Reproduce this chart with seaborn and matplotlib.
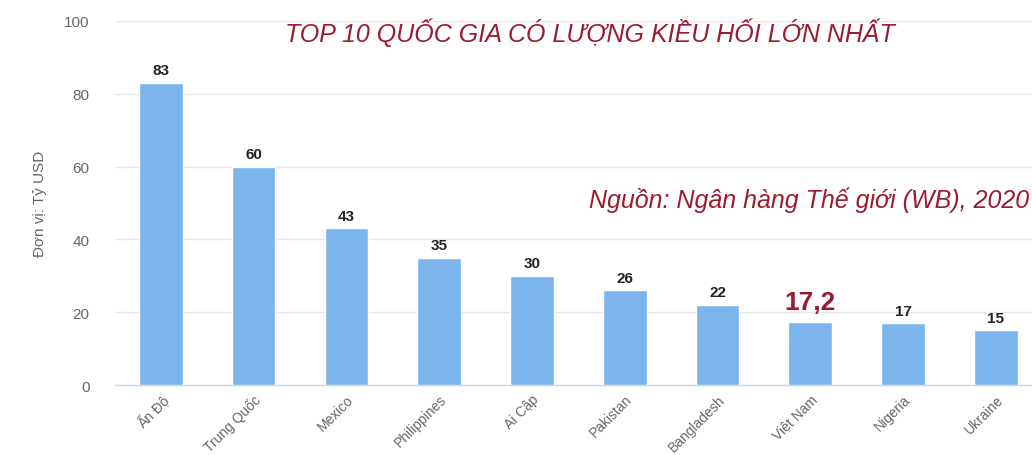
import matplotlib
matplotlib.use("Agg")
import matplotlib.pyplot as plt
import seaborn as sns
import pandas as pd

countries = ["Ấn Độ", "Trung Quốc", "Mexico", "Philippines", "Ai Cập",
             "Pakistan", "Bangladesh", "Việt Nam", "Nigeria", "Ukraine"]
values = [83, 60, 43, 35, 30, 26, 22, 17.2, 17, 15]
value_labels = ["83", "60", "43", "35", "30", "26", "22", "17,2", "17", "15"]
yticks = [0, 20, 40, 60, 80, 100]
title = "TOP 10 QUỐC GIA CÓ LƯỢNG KIỀU HỐI LỚN NHẤT"
source = "Nguồn: Ngân hàng Thế giới (WB), 2020"
ylabel = "Đơn vị: Tỷ USD"

sns.set_theme(style="white")
plt.rcParams['font.family'] = ['Liberation Sans', 'DejaVu Sans']

df = pd.DataFrame({"country": countries, "value": values})

fig = plt.figure(figsize=(10.32, 4.56), dpi=100)
ax = fig.add_axes([0.111, 0.1535, 0.889, 0.7983])

sns.barplot(data=df, x="country", y="value", color="#7cb5ec", width=0.47,
            saturation=1, ax=ax, zorder=3)

ax.set_ylim(0, 100)
ax.set_xlim(-0.5, 9.39)
ax.set_yticks(yticks)
ax.set_yticklabels([str(t) for t in yticks], color="#666666", fontsize=11)
ax.yaxis.grid(True, color="#e6e6e6", linewidth=1, zorder=0)
ax.tick_params(axis="y", length=0, pad=18)
ax.tick_params(axis="x", length=0, pad=5)
ax.set_xticks(range(len(countries)))
ax.set_xticklabels(countries, rotation=45, ha="right", rotation_mode="anchor",
                   color="#666666", fontsize=10)
ax.set_xlabel("")
ax.set_ylabel(ylabel, color="#666666", fontsize=11, labelpad=12)
for s in ["top", "right", "left"]:
    ax.spines[s].set_visible(False)
ax.spines["bottom"].set_color("#ccd6eb")
ax.spines["bottom"].set_linewidth(1)

for i, (v, lab) in enumerate(zip(values, value_labels)):
    if lab == "17,2":
        ax.text(i, v + 2.4, lab, ha="center", va="bottom", fontsize=19,
                fontweight="bold", color="#9b1c2e")
    else:
        ax.text(i, v + 1.5, lab, ha="center", va="bottom", fontsize=11,
                fontweight="bold", color="#222222")

fig.text(0.572, 0.928, title, ha="center", va="center", fontsize=18,
         style="italic", color="#9b1c2e")
fig.text(0.997, 0.56, source, ha="right", va="center", fontsize=18,
         style="italic", color="#9b1c2e")

fig.savefig("out.png", dpi=100)
